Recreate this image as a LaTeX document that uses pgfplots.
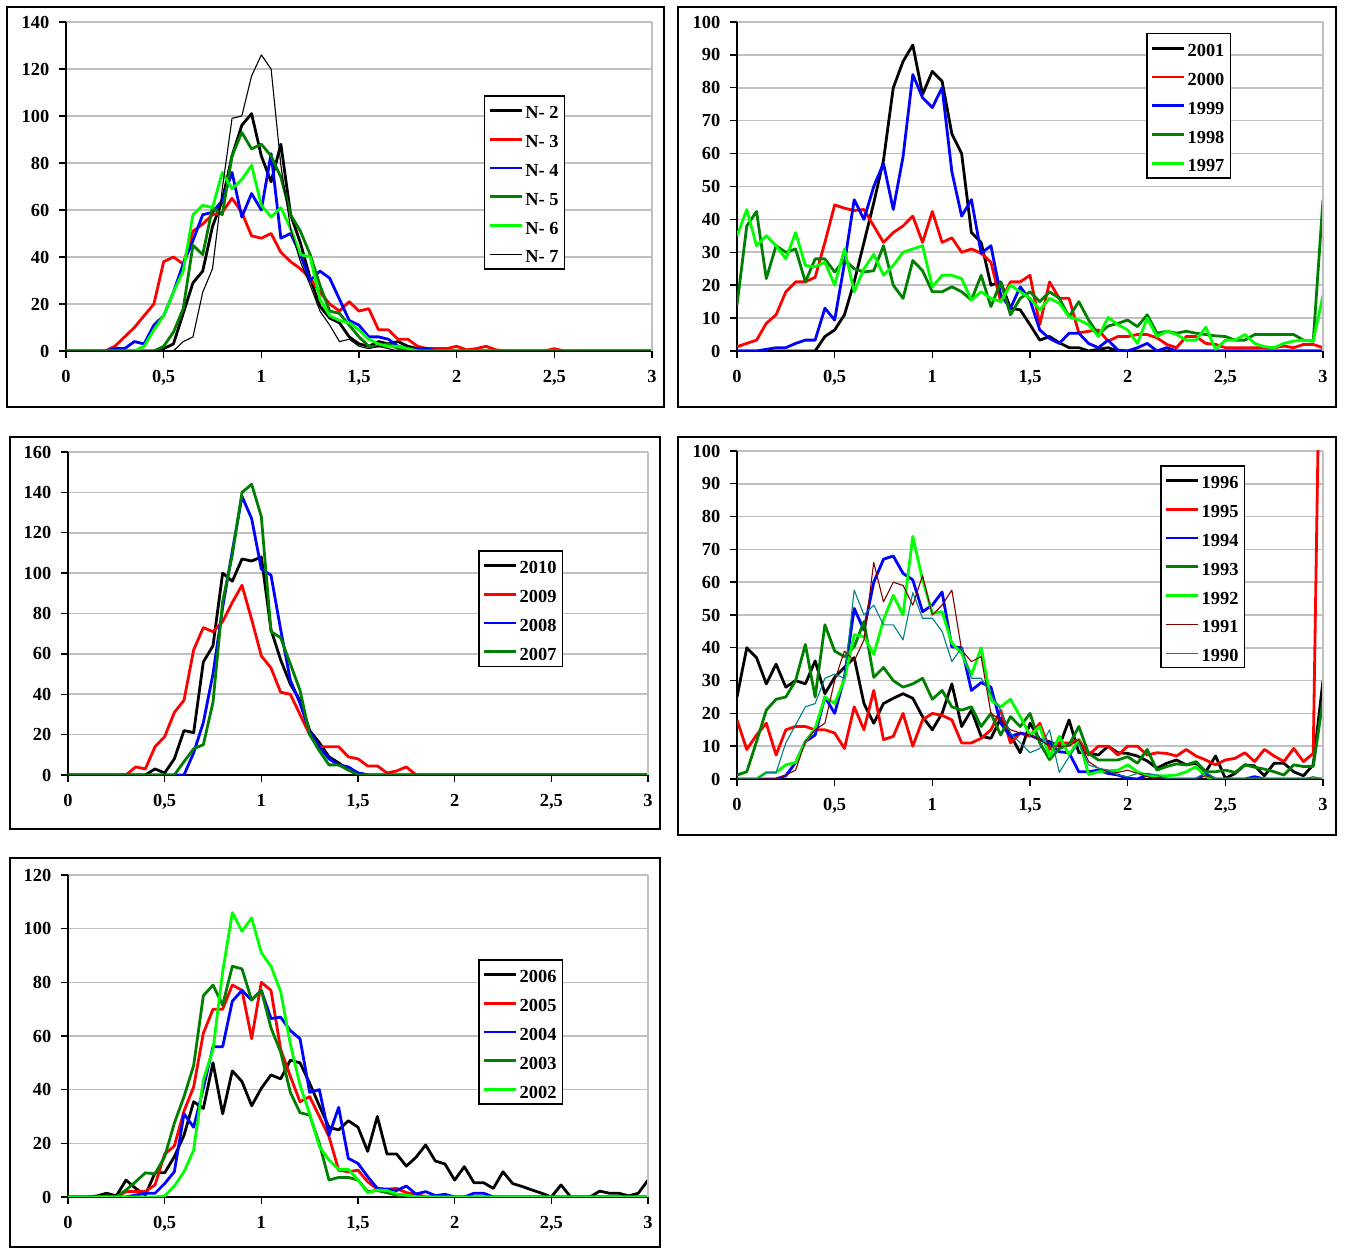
\documentclass[border=0pt]{standalone}
\usepackage{fontspec}
\setmainfont{Liberation Serif}
\usepackage{pgfplots}
\usepackage{pgfplotstable}
\pgfplotsset{compat=1.18}

\definecolor{cdgreen}{RGB}{0,128,0}
\definecolor{clgreen}{RGB}{0,255,0}
\definecolor{cmaroon}{RGB}{128,0,0}
\definecolor{cteal}{RGB}{0,128,128}
\definecolor{cgrid}{RGB}{192,192,192}

\pgfplotstableread[header=false]{
x 0 0.05 0.1 0.15 0.2 0.25 0.3 0.35 0.4 0.45  0.5 0.55 0.6 0.65 0.7 0.75 0.8 0.85 0.9 0.95  1 1.05 1.1 1.15 1.2 1.25 1.3 1.35 1.4 1.45  1.5 1.55 1.6 1.65 1.7 1.75 1.8 1.85 1.9 1.95  2 2.05 2.1 2.15 2.2 2.25 2.3 2.35 2.4 2.45  2.5 2.55 2.6 2.65 2.7 2.75 2.8 2.85 2.9 2.95  3
s1 0 0 0 0 0 0 0 0 0 0  1 3 16 29 34 53 64 83 96 101  83 72 88 58 46 31 19 14 12 6  3 2 4 3 4 2 1 0 0 0  0 0 0 0 0 0 0 0 0 0  0 0 0 0 0 0 0 0 0 0  0
s2 0 0 0 0 0 2 6 10 15 20  38 40 37 51 54 58 59 65 59 49  48 50 42 38 35 31 25 20 17 21  17 18 9 9 5 5 2 1 1 1  2 0.5 1 2 0.5 0 0 0 0 0  1 0 0 0 0 0 0 0 0 0  0
s3 0 0 0 0 0 1 1 4 3 11  15 25 37 47 58 59 64 76 57 67  60 84 48 50 41 30 34 31 22 13  11 6 6 5 2 1 1 1 0 0  0 0 0 0 0 0 0 0 0 0  0 0 0 0 0 0 0 0 0 0  0
s4 0 0 0 0 0 0 0 0 0 0  2 8 18 45 41 61 58 83 93 86  88 83 74 58 51 41 28 17 16 11  6 2 2 3 1 1 0 0 0 0  0 0 0 0 0 0 0 0 0 0  0 0 0 0 0 0 0 0 0 0  0
s5 0 0 0 0 0 0 0 0 2 9  15 25 34 58 62 61 76 69 73 79  62 57 61 52 41 40 22 15 13 12  9 5 3 2 2 1 0 0 0 0  0 0 0 0 0 0 0 0 0 0  0 0 0 0 0 0 0 0 0 0  0
s6 0 0 0 0 0 0 0 0 0 0  0 0 4 6 25 35 69 99 100 117  126 120 79 52 38 28 17 11 4 5  2 1 2 1 0 0 0 0 0 0  0 0 0 0 0 0 0 0 0 0  0 0 0 0 0 0 0 0 0 0  0
}\rawA
\pgfplotstabletranspose[colnames from=0]\tabA\rawA

\pgfplotstableread[header=false]{
x 0 0.05 0.1 0.15 0.2 0.25 0.3 0.35 0.4 0.45  0.5 0.55 0.6 0.65 0.7 0.75 0.8 0.85 0.9 0.95  1 1.05 1.1 1.15 1.2 1.25 1.3 1.35 1.4 1.45  1.5 1.55 1.6 1.65 1.7 1.75 1.8 1.85 1.9 1.95  2 2.05 2.1 2.15 2.2 2.25 2.3 2.35 2.4 2.45  2.5 2.55 2.6 2.65 2.7 2.75 2.8 2.85 2.9 2.95  3
s1 0 0 0 0 0 0 0 0 0 4.4  6.4 11 21 33 45 58 80 88 93 78  85 82 66 60 36 33 20 21 13 12.5  8 3.3 4.4 2.5 1 1 0 0.5 1 0  0 0 0 0 0 0 0 0 0 0  0 0 0 0 0 0 0 0 0 0  0
s2 1.3 2.3 3.3 8.4 11 18 21 21 22.4 33  44.4 43.4 42.7 43 38 33 36 38 41 33  42.4 33 34.4 30 31 29.7 27 15 21 21  23 8 21 16 16 5.5 6 6.4 3 4.4  4.4 5 5 4 2 1 4.4 4.4 2.3 2  1 1 1 1 1 1 1.5 1 2 2  1
s3 0 0 0 0.5 1 1 2.3 3.3 3.3 13  9.4 26.6 46 40 50 57 43 59 84 77  74 80 54.5 41 46 29.7 32 17 13 19.5  15.5 6.4 3.8 2.3 5.4 5.4 2.3 1 3.3 0.3  0 1 2.3 0 1 0 0 0 0 0  0 0 0 0 0 0 0 0 0 0  0
s4 14 38 42.4 22 32 30 31 21 28 28  24 27.7 25 24 24.4 32 20 16 27.5 24.4  18 18 19.5 18 15.5 23 13.5 21 11 16  18 15 18 16 10.4 15 9.4 5 7.6 8.4  9.4 7.4 11 5.4 6 5.4 6 5.4 5 4.6  4.4 3.3 3.3 5 5 5 5 5 3.3 3  46
s5 35 43 32 35 32 28 36 26 25.6 27  20 31 18 25 29.4 23 26 30 31 32  19.5 23 23 22 15.5 18 16 15 20 18  16 12.5 16 14.5 10.4 9.4 8 4.4 10.2 8  6.4 2.3 10 4.4 6 5 3.3 3.3 7.2 0.5  3.3 3.3 5 2.3 1.3 1 2.3 3 3.3 3  17
}\rawB
\pgfplotstabletranspose[colnames from=0]\tabB\rawB

\pgfplotstableread[header=false]{
x 0 0.05 0.1 0.15 0.2 0.25 0.3 0.35 0.4 0.45  0.5 0.55 0.6 0.65 0.7 0.75 0.8 0.85 0.9 0.95  1 1.05 1.1 1.15 1.2 1.25 1.3 1.35 1.4 1.45  1.5 1.55 1.6 1.65 1.7 1.75 1.8 1.85 1.9 1.95  2 2.05 2.1 2.15 2.2 2.25 2.3 2.35 2.4 2.45  2.5 2.55 2.6 2.65 2.7 2.75 2.8 2.85 2.9 2.95  3
s1 0 0 0 0 0 0 0 0 0 3  1 8 22 21 56 64 100 96 107 106  108 72 57 45 37 22 16 9 6 2.5  1 0 0 0 0 0 0 0 0 0  0 0 0 0 0 0 0 0 0 0  0 0 0 0 0 0 0 0 0 0  0
s2 0 0 0 0 0 0 0 4 3 14  19 31 37 62 73 71 76 85.5 94 77  59 53 41 40 30 20 14 14 14 9  8 4.5 4.5 1 2 4 0 0 0 0  0 0 0 0 0 0 0 0 0 0  0 0 0 0 0 0 0 0 0 0  0
s3 0 0 0 0 0 0 0 0 0 0  0 0 0 11 26 50 83 111 138 127  102 99 72 47 35.5 21.5 14 8 5 4  1 0 0 0 0 0 0 0 0 0  0 0 0 0 0 0 0 0 0 0  0 0 0 0 0 0 0 0 0 0  0
s4 0 0 0 0 0 0 0 0 0 0  0 0 6.6 13 15 36 86 109 140 144  128 71 68 55 42 20 12 5 5 2.5  0 0 0 0 0 0 0 0 0 0  0 0 0 0 0 0 0 0 0 0  0 0 0 0 0 0 0 0 0 0  0
}\rawC
\pgfplotstabletranspose[colnames from=0]\tabC\rawC

\pgfplotstableread[header=false]{
x 0 0.05 0.1 0.15 0.2 0.25 0.3 0.35 0.4 0.45  0.5 0.55 0.6 0.65 0.7 0.75 0.8 0.85 0.9 0.95  1 1.05 1.1 1.15 1.2 1.25 1.3 1.35 1.4 1.45  1.5 1.55 1.6 1.65 1.7 1.75 1.8 1.85 1.9 1.95  2 2.05 2.1 2.15 2.2 2.25 2.3 2.35 2.4 2.45  2.5 2.55 2.6 2.65 2.7 2.75 2.8 2.85 2.9 2.95  3
s1 25 40 37 29 35 28 30 29 36 26  31 34 37 23 17 23 24.6 26 24.6 19  15 20 29 16 21 13 12.4 18.5 13.4 8  17 12 11.4 10 18 8 8 7.3 10 8  7.8 7 5.5 3.3 4.8 5.8 4.3 4.8 2.2 7  0.2 1.7 4.3 4 1 4.8 4.8 2.2 1 4.3  30
s2 18 9 13.4 17 7.3 15 16 16 15 15  14 9.3 22 15 27 12 13 20 10 18  20 19.4 18 11 11 12.4 15 21 11 14  13 17 9 11 11 12 7.3 10 10 7.3  10 10 7.3 8 7.8 7 9 7 5.8 4.3  5.8 6.3 8 5.3 9 7 5.3 9.3 5.3 7.8  200
s3 0 0 0 0 0 1 5 11.4 13.4 25  20 31 52 45.4 60 67 68 62.7 60.7 51  53 57 40.3 40 27 29.4 28 17 13 14  13.4 12 11 8.3 8 2.2 2.2 2.7 1.7 1.2  0.2 0 1.2 0.7 0 0 0 0 1.5 0  0 0 0 0.7 0 0 0 0 0 0  0
s4 1.2 2.2 11.4 21 24.3 25 30 41 25 47  39 37.3 40.3 48 31 34 30 28 29 30.7  24.3 27 22 21 22 16 20 13.4 19 16  20 11 5.9 9.3 10.4 16 7.8 5.8 5.8 5.8  6.8 4.8 9 2.7 3.8 4.6 4.3 5.3 2.2 2.2  2.7 2 4.3 3.6 3 2.2 1.2 4.3 3.8 3.8  24
s5 0 0 0 2 2 4.3 5 11.4 15.4 25  23 30.4 44 43.4 38 48.5 56 50 74 60.7  50.5 51 41.4 38.3 31.7 40 24 22 24.3 19  13.4 16 6.8 13 7.3 12 1.4 2.2 2.5 2.7  4.3 2.2 1 1 1 1.2 2.2 3.8 0.7 0  0 0 0 0 0 0 0 0 0 0  0
s6 0 0 0 0 0 1.2 2.7 11.4 15 17  30 39 36 42.4 66 54 60 59 53 62  50 53 57.6 39.3 35.8 37.3 20 18 15 14  13.4 12 10 10 10 12 5.3 3.3 2.2 2  2.7 1.7 0.7 0 0 0 0 0 1 0  0 0 0 0 0 0 0 0 0 0  0
s7 0 0 0 2 2 11 16.5 22 23 30.7  32 30.7 57.6 50 53 47 47 42.4 56.8 49  49 45 35.8 40 30.7 30.7 26 21 14 11  8 9.3 15 2 6.8 11 4.3 3.3 2.7 1.2  0.7 1.7 1.7 1.2 0 0 0 0 2.2 0  0 0 0 0 0 0 0 0 0 0.7  0
}\rawD
\pgfplotstabletranspose[colnames from=0]\tabD\rawD

\pgfplotstableread[header=false]{
x 0 0.05 0.1 0.15 0.2 0.25 0.3 0.35 0.4 0.45  0.5 0.55 0.6 0.65 0.7 0.75 0.8 0.85 0.9 0.95  1 1.05 1.1 1.15 1.2 1.25 1.3 1.35 1.4 1.45  1.5 1.55 1.6 1.65 1.7 1.75 1.8 1.85 1.9 1.95  2 2.05 2.1 2.15 2.2 2.25 2.3 2.35 2.4 2.45  2.5 2.55 2.6 2.65 2.7 2.75 2.8 2.85 2.9 2.95  3
s1 0 0 0 0.4 1.4 0.4 6.3 3.2 0.7 9  9 15 23 35.5 33 50 31 47 43 34  40.5 45.5 44 51 50 42.4 34 26 25 28.4  26 17 30 16 16 11.5 14.8 19.4 13.4 12.3  6.3 11.3 5.3 5.3 3.2 9.4 5 3.9 2.6 1.4  0 4.5 0 0 0 2.2 1.4 1.4 0.4 1.4  6.3
s2 0 0 0 0 0 0 2 2 2 4.5  16 19 32 41 61 70 70 79 77 59  80 77 55 45 35.5 37.4 30 22.5 10 9.4  10 5.7 2.9 2.9 3.2 1.6 1.1 0 0 0  0 0 0 0 0 0 0 0 0 0  0 0 0 0 0 0 0 0 0 0  0
s3 0 0 0 0 0 0 0 0.7 1.4 1.4  5 9.4 31 26 40.5 56 56 73 77 73.4  77 66.5 67 62 59 39 40 23 33.4 14.4  12.5 7.6 3.2 2.9 2.4 4.1 1.1 2 0.5 1  0 0 1.4 1.4 0 0 0 0 0 0  0 0 0 0 0 0 0 0 0 0  0
s4 0 0 0 0 0.4 0 2.6 5.7 9 8.6  15 27.5 37.4 49 75 79 71.5 86 85 73.4  77 63 54 39 31.4 30.5 20 6.3 7.3 7.3  6.3 2 2.4 1.6 0.7 0.7 0 0 0 0  0 0 0 0 0 0 0 0 0 0  0 0 0 0 0 0 0 0 0 0  0
s5 0 0 0 0 0 0 0 0 0 0  0.4 4.1 9.4 17.5 43.6 55 84 106 99 104  91 86 76.5 57 41.7 31 18.8 13.8 10.3 10.3  6.3 1.6 2.6 2.4 1.1 0.7 0 0 0 0  0 0 0 0 0 0 0 0 0 0  0 0 0 0 0 0 0 0 0 0  0
}\rawE
\pgfplotstabletranspose[colnames from=0]\tabE\rawE

\pgfplotsset{
 panel/.style={
  scale only axis, anchor=south west,
  xmin=0, xmax=3, ymin=0,
  axis x line*=bottom, axis y line*=left,
  axis line style={line width=0.8pt, black},
  tick align=outside, major tick length=3.3pt,
  tick style={line width=0.7pt, black},
  xtick={0,0.5,1,1.5,2,2.5,3},
  xticklabels={0,{0,5},1,{1,5},2,{2,5},3},
  ymajorgrids, major grid style={cgrid, line width=0.8pt},
  ticklabel style={font=\bfseries\fontsize{9.2}{11}\selectfont},
  /pgf/number format/assume math mode=true,
  yticklabel style={xshift=-1.5pt},
  xticklabel style={yshift=-3pt},
  legend cell align=left,
  legend style={anchor=north west, draw=black, line width=0.8pt,
    font=\bfseries\fontsize{9.2}{11}\selectfont,
    inner xsep=2pt, inner ysep=2pt, row sep=3.9pt,
    nodes={inner sep=1pt, text height=8.5pt, text depth=0pt}},
  legend image code/.code={\draw[##1] (0pt,0pt) -- (16pt,0pt);},
  every axis plot/.append style={line join=round, mark=none},
  extra description/.code={\draw[cgrid, line width=0.8pt] (1,0) -- (1,1);},
 },
 thk/.style={line width=1.4pt},
 thn/.style={line width=0.55pt},
}

\begin{document}
\begin{tikzpicture}
\path[use as bounding box] (0,0) rectangle (673pt,624pt);
\draw[line width=1pt] (3.5pt,420.5pt) rectangle (332pt,620.5pt);
\draw[line width=1pt] (339pt,420.5pt) rectangle (668pt,620.5pt);
\draw[line width=1pt] (5pt,209.5pt) rectangle (330pt,405.5pt);
\draw[line width=1pt] (339pt,206.5pt) rectangle (668pt,405.5pt);
\draw[line width=1pt] (5pt,0.5pt) rectangle (330pt,195pt);

% Panel 1
\begin{axis}[panel, at={(33pt,448.5pt)}, width=293pt, height=164.5pt,
  ymax=140, ytick={0,20,...,140},
  legend style={at={(0.713,0.778)}}]
\addplot[thk, black] table[x=x,y=s1]{\tabA};
\addplot[thk, red] table[x=x,y=s2]{\tabA};
\addplot[thk, blue] table[x=x,y=s3]{\tabA};
\addplot[thk, cdgreen] table[x=x,y=s4]{\tabA};
\addplot[thk, clgreen] table[x=x,y=s5]{\tabA};
\addplot[thn, black] table[x=x,y=s6]{\tabA};
\legend{N- 2,N- 3,N- 4,N- 5,N- 6,N- 7}
\end{axis}

% Panel 2
\begin{axis}[panel, at={(368.5pt,448.5pt)}, width=293pt, height=164.5pt,
  ymax=100, ytick={0,10,...,100},
  legend style={at={(0.698,0.967)}}]
\addplot[thk, black] table[x=x,y=s1]{\tabB};
\addplot[thk, red] table[x=x,y=s2]{\tabB};
\addplot[thk, blue] table[x=x,y=s3]{\tabB};
\addplot[thk, cdgreen] table[x=x,y=s4]{\tabB};
\addplot[thk, clgreen] table[x=x,y=s5]{\tabB};
\legend{2001,2000,1999,1998,1997}
\end{axis}

% Panel 3
\begin{axis}[panel, at={(34pt,236.5pt)}, width=290pt, height=161.5pt,
  ymax=160, ytick={0,20,...,160},
  legend style={at={(0.707,0.696)}}]
\addplot[thk, black] table[x=x,y=s1]{\tabC};
\addplot[thk, red] table[x=x,y=s2]{\tabC};
\addplot[thk, blue] table[x=x,y=s3]{\tabC};
\addplot[thk, cdgreen] table[x=x,y=s4]{\tabC};
\legend{2010,2009,2008,2007}
\end{axis}

% Panel 4
\begin{axis}[panel, at={(368.5pt,234.5pt)}, width=293pt, height=164pt,
  ymax=100, ytick={0,10,...,100},
  legend style={at={(0.722,0.957)}}]
\addplot[thk, black] table[x=x,y=s1]{\tabD};
\addplot[thk, red] table[x=x,y=s2]{\tabD};
\addplot[thk, blue] table[x=x,y=s3]{\tabD};
\addplot[thk, cdgreen] table[x=x,y=s4]{\tabD};
\addplot[thk, clgreen] table[x=x,y=s5]{\tabD};
\addplot[thn, cmaroon] table[x=x,y=s6]{\tabD};
\addplot[thn, cteal] table[x=x,y=s7]{\tabD};
\legend{1996,1995,1994,1993,1992,1991,1990}
\end{axis}

% Panel 5
\begin{axis}[panel, at={(34pt,25.5pt)}, width=290pt, height=161pt,
  ymax=120, ytick={0,20,...,120},
  legend style={at={(0.707,0.739)}}]
\addplot[thk, black] table[x=x,y=s1]{\tabE};
\addplot[thk, red] table[x=x,y=s2]{\tabE};
\addplot[thk, blue] table[x=x,y=s3]{\tabE};
\addplot[thk, cdgreen] table[x=x,y=s4]{\tabE};
\addplot[thk, clgreen] table[x=x,y=s5]{\tabE};
\legend{2006,2005,2004,2003,2002}
\end{axis}
\end{tikzpicture}
\end{document}
